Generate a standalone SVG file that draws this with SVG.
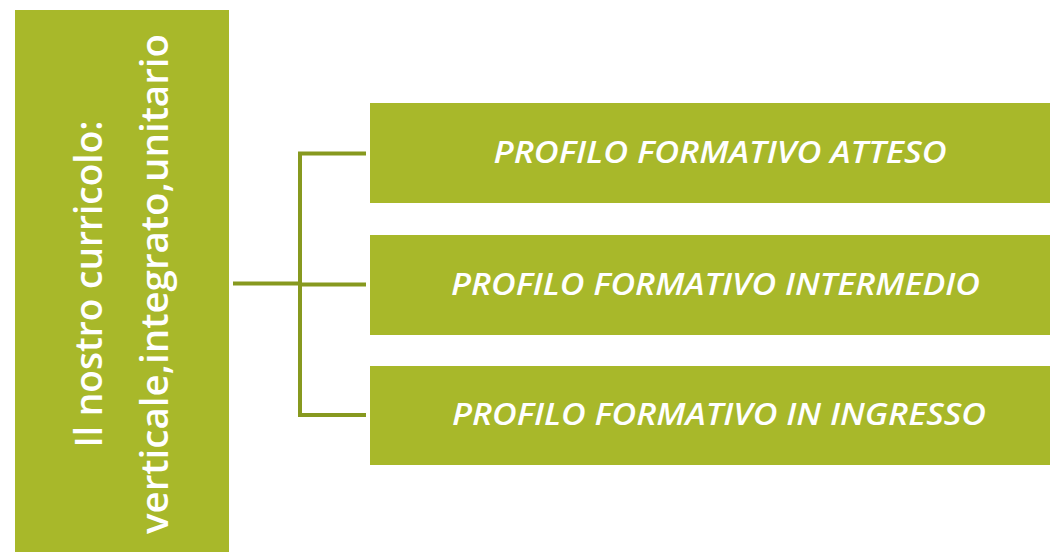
<svg xmlns="http://www.w3.org/2000/svg" width="1050" height="552" viewBox="0 0 1050 552">
<style>
.box{fill:#a8b82a}
.conn{stroke:#87991f;stroke-width:4;fill:none;stroke-linecap:butt;stroke-linejoin:miter}
.lt{font-family:"Open Sans","Noto Sans",sans-serif;font-weight:600;font-size:37px;fill:#ffffff;text-anchor:middle}
.rt{font-family:"Open Sans","Noto Sans",sans-serif;font-weight:600;font-style:italic;font-size:30px;fill:#ffffff;text-anchor:middle}
</style>
<rect width="1050" height="552" fill="#ffffff"/>
<g id="main">
<rect class="box" x="15" y="10" width="214" height="542"/>
<g transform="translate(0,284) rotate(-90)">
<text class="lt" x="0" y="102" textLength="327" lengthAdjust="spacingAndGlyphs">Il nostro curricolo:</text>
<text class="lt" x="0" y="168" textLength="500" lengthAdjust="spacingAndGlyphs">verticale,integrato,unitario</text>
</g>
</g>
<g id="connectors">
<path class="conn" d="M233,283.5 H300"/>
<path class="conn" d="M366,153.5 H300 V415 H366"/>
<path class="conn" d="M300,284.5 H366"/>
</g>
<g id="n1">
<rect class="box" x="370" y="103" width="680" height="100"/>
<text class="rt" x="720" y="163" textLength="453" lengthAdjust="spacingAndGlyphs">PROFILO FORMATIVO ATTESO</text>
</g>
<g id="n2">
<rect class="box" x="370" y="235" width="680" height="100"/>
<text class="rt" x="715.5" y="295" textLength="529" lengthAdjust="spacingAndGlyphs">PROFILO FORMATIVO INTERMEDIO</text>
</g>
<g id="n3">
<rect class="box" x="370" y="366" width="680" height="99"/>
<text class="rt" x="719" y="425" textLength="534" lengthAdjust="spacingAndGlyphs">PROFILO FORMATIVO IN INGRESSO</text>
</g>
</svg>
